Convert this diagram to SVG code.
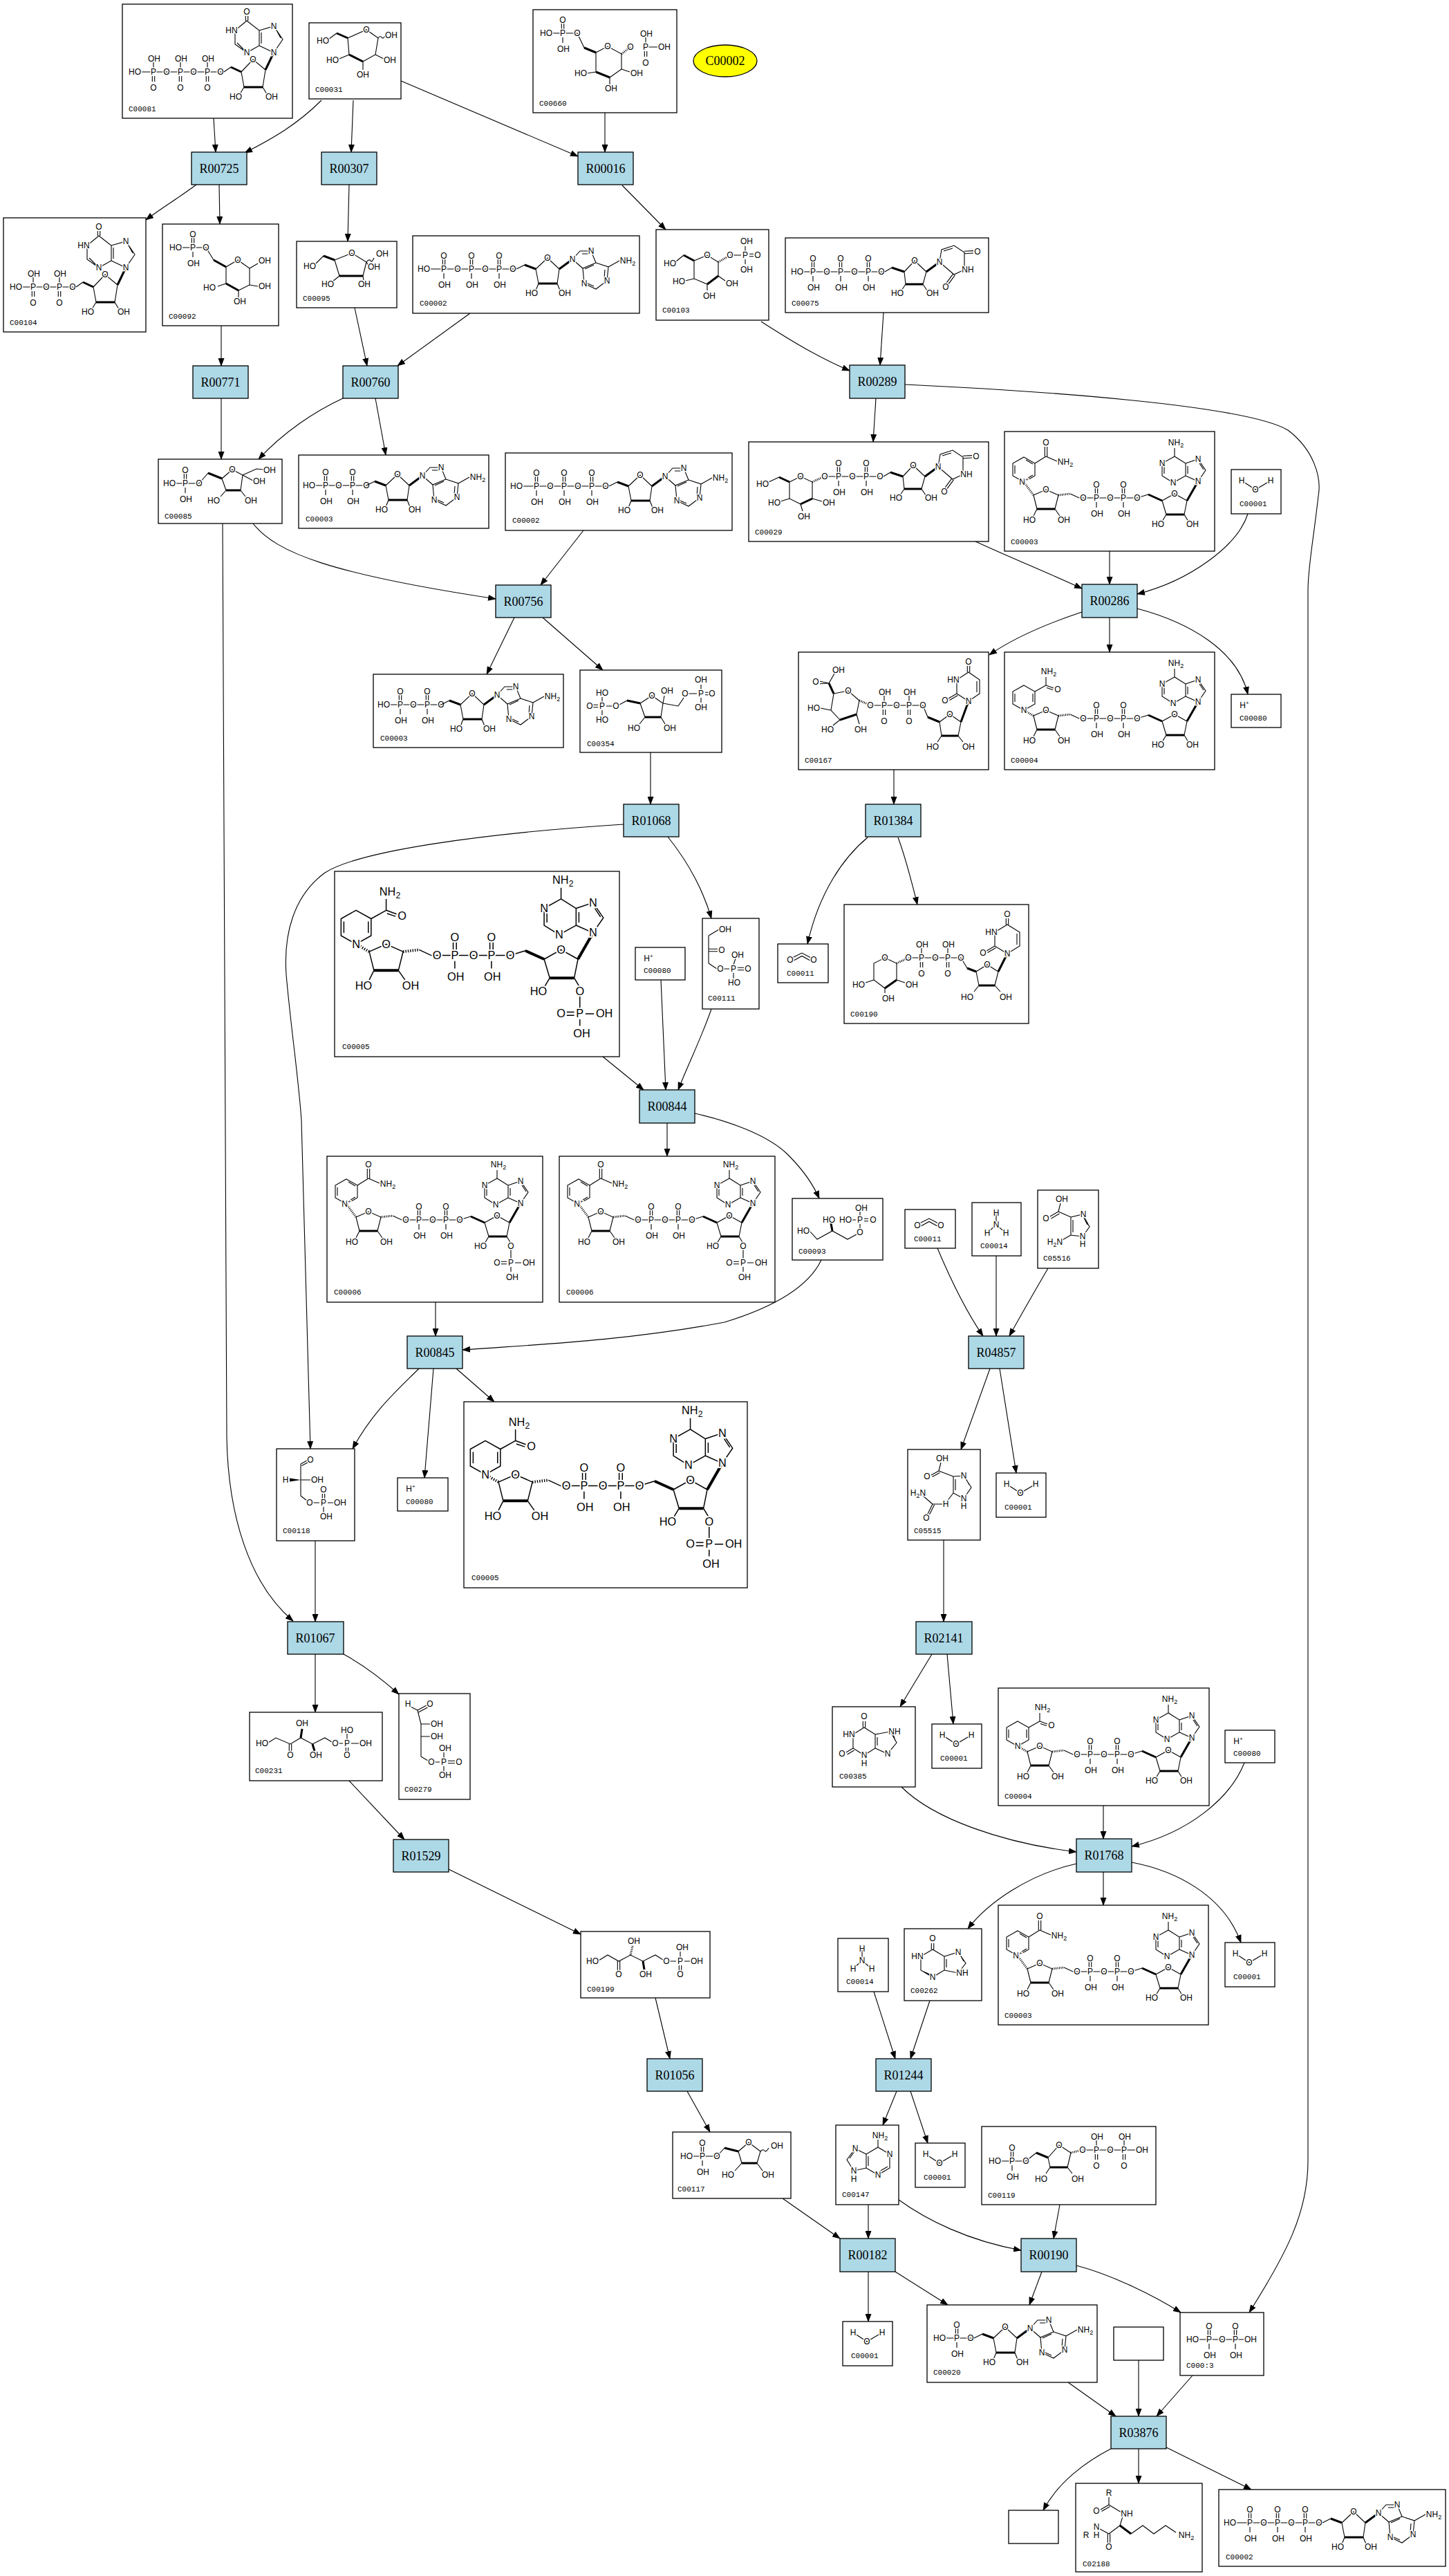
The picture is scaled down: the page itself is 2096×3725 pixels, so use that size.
<svg xmlns="http://www.w3.org/2000/svg" width="2096" height="3725" viewBox="0 0 2096 3725">
<style>
.bx{fill:#fff;stroke:#000;stroke-width:1.3}
.rx{fill:#add8e6;stroke:#000;stroke-width:1.3}
.rt{font-family:'Liberation Serif','Times New Roman',serif;font-size:18px;text-anchor:middle;fill:#000}
.lb{font-family:'Liberation Mono','Courier New',monospace;font-size:11px;fill:#000}
.a{font-family:'Liberation Sans',Arial,sans-serif;font-size:12px;text-anchor:middle;fill:#000;stroke:#fff;stroke-width:3px;paint-order:stroke;stroke-linejoin:round}
.b{fill:none;stroke:#000;stroke-width:1.1}
.bb{fill:none;stroke:#000;stroke-width:3}
.hs{fill:none;stroke:#000;stroke-width:3;stroke-dasharray:1 1.5}
.e{fill:none;stroke:#000;stroke-width:1.1;marker-end:url(#ah)}
.sub{font-size:9px}
</style>
<defs>
<marker id="ah" markerWidth="12" markerHeight="9" refX="11" refY="4.5" orient="auto" markerUnits="userSpaceOnUse"><path d="M0,0L12,4.5L0,9Z" fill="#000"/></marker>
<g id="pu"><path class="b" d="M-1.7,-6V-14M1.7,-6V-14M0,6V14"/><text class="a" y="4">P</text><text class="a" y="-15">O</text><text class="a" x="1" y="27">OH</text></g>
<g id="pd"><path class="b" d="M0,-6V-14M-1.7,6V14M1.7,6V14"/><text class="a" y="4">P</text><text class="a" x="1" y="-15">OH</text><text class="a" y="27">O</text></g>
<g id="rad">
<path class="b" d="M-28,0L-16,-6M0,0L17,-16L34,0L31,21M4,21L0,0M4,21L0,31M31,21L35,31M53,-14L64,-26L80,-26L87,-9L68,-1ZM87,-9L105,-3L103,17L87,29L70,21L68,-1M105,-3L121,-12M67,-22L78,-22M84,-6L71,0M100,1L99,14M84,25L73,20"/>
<path class="bb" d="M-16,-6L0,0M4,21L31,21M34,0L53,-14"/>
<text class="a" x="17" y="-12">O</text><text class="a" x="-6" y="39">HO</text><text class="a" x="42" y="39">OH</text>
<text class="a" x="53" y="-10">N</text><text class="a" x="80" y="-22">N</text><text class="a" x="103" y="21">N</text><text class="a" x="70" y="25">N</text>
<text class="a" x="133" y="-8">NH<tspan class="sub" dy="3">2</tspan></text>
</g>
<g id="rhx">
<path class="b" d="M-25,0L-15,-7M0,0L17,-18L35,-3L31,22M4,22L0,0M4,22L-2,32M31,22L37,32M8,-74L-9,-60L-9,-40L8,-28L26,-38L26,-60ZM26,-60L47,-66L60,-47L47,-28L26,-38M6.3,-74V-81M9.7,-74V-81M-6,-42L5,-31M29,-57V-41M50,-62L57,-49"/>
<path class="bb" d="M-15,-7L0,0M4,22L31,22M35,-3L47,-28"/>
<text class="a" x="17" y="-14">O</text><text class="a" x="-8" y="40">HO</text><text class="a" x="44" y="40">OH</text>
<text class="a" x="8" y="-83">O</text><text class="a" x="-14" y="-56">HN</text><text class="a" x="8" y="-24">N</text><text class="a" x="47" y="-62">N</text><text class="a" x="47" y="-24">N</text>
</g>
<g id="rur">
<path class="b" d="M-28,0L-18,-6M0,0L15,-16L32,0L27,18M2,18L0,0M2,18L-4,27M27,18L33,27M51,-14L54,-32L72,-38L87,-28L87,-3L72,4ZM87,-26.3L100,-27M87,-29.7L100,-30.4M73.4,4.9L62.4,19.9M70.6,3.1L59.6,18.1M57,-30L70,-34"/>
<path class="bb" d="M-18,-6L0,0M2,18L27,18M32,0L51,-14"/>
<text class="a" x="15" y="-12">O</text><text class="a" x="-10" y="35">HO</text><text class="a" x="41" y="35">OH</text>
<text class="a" x="51" y="-10">N</text><text class="a" x="92" y="1">NH</text><text class="a" x="106" y="-25">O</text><text class="a" x="60" y="26">O</text>
</g>
<g id="atp">
<path class="b" d="M26,48H150"/>
<text class="a" x="16" y="52">HO</text>
<use href="#pu" x="45" y="48"/><text class="a" x="65" y="52">O</text>
<use href="#pu" x="85" y="48"/><text class="a" x="105" y="52">O</text>
<use href="#pu" x="125" y="48"/><text class="a" x="145" y="52">O</text>
<use href="#rad" x="178" y="48"/>
</g>
<g id="adp">
<path class="b" d="M24,44H98"/>
<text class="a" x="15" y="48">HO</text>
<use href="#pu" x="39" y="44"/><text class="a" x="58" y="48">O</text>
<use href="#pu" x="78" y="44"/><text class="a" x="98" y="48">O</text>
<use href="#rad" x="126" y="44"/>
</g>
<g id="nadcore">
<path class="b" d="M42,92L60,84L78,92L73,112M47,112L42,92M47,112L42,122M73,112L80,122M95,90L108,96H192L208,91M228,100L246,90L264,100L260,120M234,120L228,100M234,120L228,130M260,120L266,130M246,36L228,46L228,64L244,74L262,64L262,46ZM262,46L280,40L291,56L280,72L262,64M246,36V24M265,50V61M231,50V61M282,46L288,55"/>
<path class="bb" d="M47,112L73,112M234,120L260,120M264,100L280,72M208,91L228,100"/>
<path class="hs" d="M78,92L95,90"/>
<use href="#pu" x="133" y="96"/><use href="#pu" x="172" y="96"/>
<text class="a" x="114" y="100">O</text><text class="a" x="153" y="100">O</text><text class="a" x="192" y="100">O</text>
<text class="a" x="60" y="88">O</text><text class="a" x="246" y="94">O</text>
<text class="a" x="36" y="132">HO</text><text class="a" x="86" y="132">OH</text><text class="a" x="222" y="138">HO</text>
<text class="a" x="228" y="50">N</text><text class="a" x="244" y="78">N</text><text class="a" x="280" y="44">N</text><text class="a" x="280" y="76">N</text>
<text class="a" x="248" y="20">NH<tspan class="sub" dy="3">2</tspan></text>
</g>
<g id="nicox">
<path class="b" d="M28,37L44,46L44,64L28,73L12,64L12,46ZM15,49V61M31,41L41,47M31,69L41,63M44,46L60,36M58.3,36V22M61.7,36V22M60,36L76,43"/>
<path class="hs" d="M28,73L42,92"/>
<text class="a" x="28" y="77">N<tspan font-size="8" dy="-5">+</tspan></text>
<text class="a" x="60" y="20">O</text>
<text class="a" x="88" y="48">NH<tspan class="sub" dy="3">2</tspan></text>
</g>
<g id="nicred">
<path class="b" d="M28,48L44,57L44,75L28,84L12,75L12,57ZM41,60V72M15,60V72M44,57L60,48M60,48L71,52M61,51.5L70,54.5M60,48V36"/>
<path class="hs" d="M28,84L42,92"/>
<text class="a" x="28" y="88">N</text>
<text class="a" x="77" y="58">O</text>
<text class="a" x="64" y="32">NH<tspan class="sub" dy="3">2</tspan></text>
</g>
<g id="p2">
<path class="b" d="M266,138V152M260,156.3H252M260,159.7H252M272,158H281M266,164V171"/>
<text class="a" x="266" y="138">O</text><text class="a" x="266" y="162">P</text><text class="a" x="246" y="162">O</text><text class="a" x="292" y="162">OH</text><text class="a" x="268" y="183">OH</text>
</g>
<g id="nad"><use href="#nadcore"/><use href="#nicox"/><text class="a" x="272" y="138">OH</text></g>
<g id="nadh"><use href="#nadcore"/><use href="#nicred"/><text class="a" x="272" y="138">OH</text></g>
<g id="nadp"><use href="#nadcore"/><use href="#nicox"/><use href="#p2"/></g>
<g id="nadph"><use href="#nadcore"/><use href="#nicred"/><use href="#p2"/></g>
<g id="water"><path class="b" d="M15,16L35,29L57,16"/><text class="a" x="15" y="20">H</text><text class="a" x="35" y="33">O</text><text class="a" x="57" y="20">H</text></g>
<g id="hplus"><text class="a" x="19" y="20">H<tspan font-size="8" dy="-5">+</tspan></text></g>
<g id="co2"><path class="b" d="M21,20L35,13L48,20M23,24L35,17.5L47,24"/><text class="a" x="18" y="27">O</text><text class="a" x="52" y="27">O</text></g>
<g id="nh3"><path class="b" d="M35,15V32M22,44L35,32L49,44"/><text class="a" x="35" y="19">H</text><text class="a" x="35" y="36">N</text><text class="a" x="22" y="48">H</text><text class="a" x="49" y="48">H</text></g>
</defs>
<rect width="2096" height="3725" fill="#fff"/>

<g id="edges">
<path class="e" d="M309,171L312,220"/>
<path class="e" d="M465,145C430,180 395,200 354,221"/>
<path class="e" d="M511,145L508,220"/>
<path class="e" d="M580,117L836,226"/>
<path class="e" d="M875,163L875,220"/>
<path class="e" d="M284,267C260,285 235,300 211,318"/>
<path class="e" d="M317,267L318,324"/>
<path class="e" d="M505,267L503,349"/>
<path class="e" d="M900,268L963,332"/>
<path class="e" d="M320,471L320,529"/>
<path class="e" d="M513,445L531,529"/>
<path class="e" d="M680,453L575,529"/>
<path class="e" d="M320,576L320,664"/>
<path class="e" d="M496,576C455,595 410,625 374,664"/>
<path class="e" d="M543,576L558,658"/>
<path class="e" d="M366,757C400,800 480,830 717,866"/>
<path class="e" d="M844,767L782,846"/>
<path class="e" d="M744,893L704,975"/>
<path class="e" d="M785,893L872,969"/>
<path class="e" d="M941,1088L941,1163"/>
<path class="e" d="M322,757L328,2079C330,2190 360,2290 424,2344"/>
<path class="e" d="M902,1192C700,1205 520,1230 470,1262C425,1295 410,1350 414,1409C420,1480 432,1560 436,1620L449,2095"/>
<path class="e" d="M966,1210C990,1240 1015,1280 1029,1328"/>
<path class="e" d="M872,1528L931,1576"/>
<path class="e" d="M956,1417L963,1576"/>
<path class="e" d="M1029,1459C1015,1500 995,1540 981,1576"/>
<path class="e" d="M965,1624L965,1672"/>
<path class="e" d="M1005,1610C1050,1620 1110,1640 1140,1670C1160,1690 1175,1710 1185,1733"/>
<path class="e" d="M1188,1822C1170,1860 1120,1890 1048,1912C900,1940 760,1945 669,1952"/>
<path class="e" d="M630,1883L630,1932"/>
<path class="e" d="M606,1979C575,2010 540,2040 510,2095"/>
<path class="e" d="M627,1979L614,2137"/>
<path class="e" d="M660,1979L715,2027"/>
<path class="e" d="M456,2228L456,2345"/>
<path class="e" d="M456,2392L456,2476"/>
<path class="e" d="M497,2392C530,2410 555,2430 577,2450"/>
<path class="e" d="M505,2575L585,2660"/>
<path class="e" d="M649,2703L840,2797"/>
<path class="e" d="M948,2889L969,2977"/>
<path class="e" d="M994,3024L1027,3083"/>
<path class="e" d="M1132,3179L1215,3237"/>
<path class="e" d="M1256,3188L1256,3237"/>
<path class="e" d="M1300,3181C1340,3210 1400,3240 1477,3254"/>
<path class="e" d="M1533,3188L1524,3237"/>
<path class="e" d="M1256,3285L1256,3357"/>
<path class="e" d="M1295,3285L1371,3333"/>
<path class="e" d="M1507,3285L1489,3333"/>
<path class="e" d="M1557,3276C1610,3290 1670,3320 1708,3344"/>
<path class="e" d="M1309,556C1500,565 1800,585 1863,622C1900,650 1912,690 1907,717C1900,780 1892,820 1892,853L1892,3125C1892,3200 1860,3260 1807,3344"/>
<path class="e" d="M1647,3413L1647,3494"/>
<path class="e" d="M1545,3445L1614,3494"/>
<path class="e" d="M1725,3435L1673,3494"/>
<path class="e" d="M1607,3541C1570,3560 1530,3590 1509,3630"/>
<path class="e" d="M1647,3541L1647,3591"/>
<path class="e" d="M1687,3539L1810,3600"/>
<path class="e" d="M1304,2584C1350,2630 1450,2665 1557,2678"/>
<path class="e" d="M1596,2611L1596,2659"/>
<path class="e" d="M1800,2549C1780,2600 1720,2650 1637,2670"/>
<path class="e" d="M1557,2695C1490,2710 1430,2750 1400,2789"/>
<path class="e" d="M1596,2707L1596,2755"/>
<path class="e" d="M1637,2693C1700,2705 1770,2740 1795,2809"/>
<path class="e" d="M1264,2880L1295,2977"/>
<path class="e" d="M1345,2893L1317,2977"/>
<path class="e" d="M1297,3024L1277,3073"/>
<path class="e" d="M1317,3024L1342,3099"/>
<path class="e" d="M1348,2392L1302,2468"/>
<path class="e" d="M1370,2392L1379,2493"/>
<path class="e" d="M1365,2227L1365,2345"/>
<path class="e" d="M1432,1979L1390,2096"/>
<path class="e" d="M1446,1979L1470,2130"/>
<path class="e" d="M1356,1805C1375,1850 1400,1900 1422,1932"/>
<path class="e" d="M1441,1816L1441,1932"/>
<path class="e" d="M1516,1834C1495,1870 1475,1905 1460,1932"/>
<path class="e" d="M1255,1211C1220,1240 1185,1290 1168,1365"/>
<path class="e" d="M1299,1211C1310,1240 1320,1280 1327,1308"/>
<path class="e" d="M1267,576L1263,639"/>
<path class="e" d="M1278,452L1273,528"/>
<path class="e" d="M1101,465C1140,490 1180,515 1229,536"/>
<path class="e" d="M1411,783C1470,810 1520,830 1565,851"/>
<path class="e" d="M1605,797L1605,845"/>
<path class="e" d="M1805,743C1790,790 1720,840 1645,859"/>
<path class="e" d="M1565,885C1520,900 1470,920 1431,947"/>
<path class="e" d="M1605,893L1605,943"/>
<path class="e" d="M1645,880C1720,900 1790,940 1805,1004"/>
<path class="e" d="M1293,1113L1293,1163"/>
</g>

<g id="reactions">
<g id="R00725"><rect class="rx" x="277" y="220" width="80" height="47"/><text class="rt" x="317" y="250">R00725</text></g>
<g id="R00307"><rect class="rx" x="465" y="220" width="80" height="47"/><text class="rt" x="505" y="250">R00307</text></g>
<g id="R00016"><rect class="rx" x="836" y="220" width="80" height="47"/><text class="rt" x="876" y="250">R00016</text></g>
<g id="R00771"><rect class="rx" x="279" y="529" width="80" height="47"/><text class="rt" x="319" y="559">R00771</text></g>
<g id="R00760"><rect class="rx" x="496" y="529" width="80" height="47"/><text class="rt" x="536" y="559">R00760</text></g>
<g id="R00289"><rect class="rx" x="1229" y="528" width="80" height="48"/><text class="rt" x="1269" y="558">R00289</text></g>
<g id="R00756"><rect class="rx" x="717" y="846" width="80" height="47"/><text class="rt" x="757" y="876">R00756</text></g>
<g id="R00286"><rect class="rx" x="1565" y="845" width="80" height="48"/><text class="rt" x="1605" y="875">R00286</text></g>
<g id="R01068"><rect class="rx" x="902" y="1163" width="80" height="47"/><text class="rt" x="942" y="1193">R01068</text></g>
<g id="R01384"><rect class="rx" x="1252" y="1163" width="80" height="47"/><text class="rt" x="1292" y="1193">R01384</text></g>
<g id="R00844"><rect class="rx" x="925" y="1576" width="80" height="48"/><text class="rt" x="965" y="1606">R00844</text></g>
<g id="R00845"><rect class="rx" x="589" y="1932" width="80" height="47"/><text class="rt" x="629" y="1962">R00845</text></g>
<g id="R04857"><rect class="rx" x="1401" y="1932" width="80" height="47"/><text class="rt" x="1441" y="1962">R04857</text></g>
<g id="R01067"><rect class="rx" x="416" y="2345" width="81" height="47"/><text class="rt" x="456" y="2375">R01067</text></g>
<g id="R02141"><rect class="rx" x="1325" y="2345" width="81" height="47"/><text class="rt" x="1365" y="2375">R02141</text></g>
<g id="R01529"><rect class="rx" x="569" y="2660" width="80" height="47"/><text class="rt" x="609" y="2690">R01529</text></g>
<g id="R01768"><rect class="rx" x="1557" y="2659" width="80" height="48"/><text class="rt" x="1597" y="2689">R01768</text></g>
<g id="R01056"><rect class="rx" x="936" y="2977" width="80" height="47"/><text class="rt" x="976" y="3007">R01056</text></g>
<g id="R01244"><rect class="rx" x="1267" y="2977" width="80" height="47"/><text class="rt" x="1307" y="3007">R01244</text></g>
<g id="R00182"><rect class="rx" x="1215" y="3237" width="80" height="48"/><text class="rt" x="1255" y="3267">R00182</text></g>
<g id="R00190"><rect class="rx" x="1477" y="3237" width="80" height="48"/><text class="rt" x="1517" y="3267">R00190</text></g>
<g id="R03876"><rect class="rx" x="1607" y="3494" width="80" height="47"/><text class="rt" x="1647" y="3524">R03876</text></g>
</g>

<g id="C00002_y"><ellipse cx="1049" cy="88" rx="46" ry="23" fill="#ffff00" stroke="#000" stroke-width="1.3"/><text class="rt" x="1049" y="94">C00002</text></g>

<g id="C00081" transform="translate(177,6)"><rect class="bx" width="246" height="165"/>
<path class="b" d="M27,98H147"/><text class="a" x="18" y="102">HO</text>
<use href="#pd" x="45" y="98"/><text class="a" x="64" y="102">O</text>
<use href="#pd" x="84" y="98"/><text class="a" x="103" y="102">O</text>
<use href="#pd" x="123" y="98"/><text class="a" x="142" y="102">O</text>
<use href="#rhx" x="172" y="98"/>
<text class="lb" x="9" y="155">C00081</text></g>

<g id="C00031" transform="translate(447,33)"><rect class="bx" width="133" height="110"/>
<path class="b" d="M56,22L83,10L100,22L96,46L78,56M58,46L56,22M96,46L108,52M78,56V68M58,46L44,52M40,15L28,24M100,22q3,-4 5,-1t5,-2"/>
<path class="bb" d="M56,22L40,15M78,56L58,46"/>
<text class="a" x="83" y="14">O</text><text class="a" x="20" y="30">HO</text><text class="a" x="119" y="22">OH</text><text class="a" x="117" y="58">OH</text><text class="a" x="78" y="79">OH</text><text class="a" x="34" y="58">HO</text>
<text class="lb" x="9" y="100">C00031</text></g>

<g id="C00660" transform="translate(771,14)"><rect class="bx" width="208" height="149"/>
<path class="b" d="M28,34H64M64,34L74,55M91,62L108,53L128,64L128,86L111,98M91,90L91,62M163,54H180M128,86L140,90M111,98V108M91,90L78,92"/>
<path class="bb" d="M74,55L91,62M111,98L91,90"/>
<path class="hs" d="M128,64L141,54"/>
<use href="#pu" x="43" y="34"/><use href="#pd" x="163" y="54"/>
<text class="a" x="19" y="38">HO</text><text class="a" x="64" y="38">O</text><text class="a" x="108" y="57">O</text><text class="a" x="141" y="58">O</text><text class="a" x="190" y="58">OH</text><text class="a" x="150" y="96">OH</text><text class="a" x="113" y="118">OH</text><text class="a" x="69" y="96">HO</text>
<text class="lb" x="9" y="139">C00660</text></g>

<g id="C00104" transform="translate(5,315)"><rect class="bx" width="206" height="165"/>
<path class="b" d="M27,100H105"/><text class="a" x="18" y="104">HO</text>
<use href="#pd" x="43" y="100"/><text class="a" x="62" y="104">O</text>
<use href="#pd" x="81" y="100"/><text class="a" x="100" y="104">O</text>
<use href="#rhx" x="130" y="100"/>
<text class="lb" x="9" y="155">C00104</text></g>

<g id="C00092" transform="translate(235,324)"><rect class="bx" width="168" height="147"/>
<path class="b" d="M28,34H63M63,34L74,52M92,62L109,52L126,64L126,88L110,96M92,86L92,62M126,64L138,57M126,88L138,90M110,96V106M92,86L80,90"/>
<path class="bb" d="M74,52L92,62M110,96L92,86"/>
<use href="#pu" x="44" y="34"/>
<text class="a" x="19" y="38">HO</text><text class="a" x="63" y="38">O</text><text class="a" x="109" y="56">O</text><text class="a" x="148" y="57">OH</text><text class="a" x="148" y="94">OH</text><text class="a" x="112" y="116">OH</text><text class="a" x="68" y="96">HO</text>
<text class="lb" x="9" y="137">C00092</text></g>

<g id="C00095" transform="translate(429,349)"><rect class="bx" width="145" height="96"/>
<path class="b" d="M27,33L39,21M55,27L80,17L101,30L96,50M62,50L55,27M101,30q4,-5 6,-2t5,-4M101,30L104,35M62,50L52,58M96,50L97,56"/>
<path class="bb" d="M39,21L55,27M62,50L96,50"/>
<text class="a" x="19" y="40">HO</text><text class="a" x="80" y="21">O</text><text class="a" x="124" y="22">OH</text><text class="a" x="112" y="41">OH</text><text class="a" x="45" y="66">HO</text><text class="a" x="98" y="66">OH</text>
<text class="lb" x="9" y="86">C00095</text></g>

<g id="C00002_a" transform="translate(597,341)"><rect class="bx" width="328" height="112"/><use href="#atp"/><text class="lb" x="10" y="101">C00002</text></g>

<g id="C00103" transform="translate(949,332)"><rect class="bx" width="163" height="131"/>
<path class="b" d="M29,46L40,37M55,45L74,37L90,47L90,67M74,79L55,71L55,45M107,37H123M129,31V24M129,43V50M135,35.3H141M135,38.7H141M90,67L100,74M74,79V88M55,71L42,74"/>
<path class="bb" d="M40,37L55,45M90,67L74,79"/>
<path class="hs" d="M90,47L104,39"/>
<text class="a" x="20" y="53">HO</text><text class="a" x="74" y="41">O</text><text class="a" x="107" y="41">O</text><text class="a" x="129" y="41">P</text><text class="a" x="131" y="21">OH</text><text class="a" x="131" y="62">OH</text><text class="a" x="147" y="41">O</text><text class="a" x="110" y="82">OH</text><text class="a" x="77" y="100">OH</text><text class="a" x="33" y="79">HO</text>
<text class="lb" x="9" y="120">C00103</text></g>

<g id="C00075" transform="translate(1136,344)"><rect class="bx" width="294" height="108"/>
<path class="b" d="M26,49H144"/><text class="a" x="17" y="53">HO</text>
<use href="#pu" x="40" y="49"/><text class="a" x="60" y="53">O</text>
<use href="#pu" x="80" y="49"/><text class="a" x="100" y="53">O</text>
<use href="#pu" x="120" y="49"/><text class="a" x="139" y="53">O</text>
<use href="#rur" x="172" y="49"/>
<text class="lb" x="9" y="98">C00075</text></g>

<g id="C00085" transform="translate(229,664)"><rect class="bx" width="179" height="93"/>
<path class="b" d="M25,35H59M59,35L72,20M92,28L107,15L122,23L119,45M98,45L92,28M122,23L142,14L152,15M122,23L137,31M98,45L90,54M119,45L126,54"/>
<path class="bb" d="M72,20L92,28M98,45L119,45"/>
<use href="#pu" x="39" y="35"/>
<text class="a" x="16" y="39">HO</text><text class="a" x="59" y="39">O</text><text class="a" x="107" y="19">O</text><text class="a" x="161" y="20">OH</text><text class="a" x="146" y="36">OH</text><text class="a" x="80" y="64">HO</text><text class="a" x="134" y="64">OH</text>
<text class="lb" x="9" y="86">C00085</text></g>

<g id="C00003_a" transform="translate(432,658)"><rect class="bx" width="275" height="106"/><use href="#adp"/><text class="lb" x="10" y="96">C00003</text></g>

<g id="C00002_b" transform="translate(731,655)"><rect class="bx" width="328" height="112"/><use href="#atp"/><text class="lb" x="10" y="101">C00002</text></g>

<g id="C00029" transform="translate(1083,639)"><rect class="bx" width="347" height="144"/>
<path class="b" d="M29,58L44,51M59,58L75,50L92,58L92,82M75,90L59,82L59,58M59,82L46,86M75,90L78,100M92,82L106,86M110,50H190"/>
<path class="bb" d="M44,51L59,58M92,82L75,90"/>
<path class="hs" d="M92,58L105,52"/>
<use href="#pu" x="130" y="50"/><use href="#pu" x="170" y="50"/>
<text class="a" x="20" y="65">HO</text><text class="a" x="75" y="54">O</text><text class="a" x="37" y="92">HO</text><text class="a" x="80" y="112">OH</text><text class="a" x="116" y="92">OH</text>
<text class="a" x="110" y="54">O</text><text class="a" x="150" y="54">O</text><text class="a" x="190" y="54">O</text>
<use href="#rur" x="223" y="50"/>
<text class="lb" x="9" y="134">C00029</text></g>

<g id="C00003_c" transform="translate(1453,624)"><rect class="bx" width="304" height="173"/><use href="#nad"/><text class="lb" x="9" y="163">C00003</text></g>

<g id="C00001_a" transform="translate(1781,679)"><rect class="bx" width="72" height="64"/><use href="#water"/><text class="lb" x="12" y="53">C00001</text></g>

<g id="C00003_b" transform="translate(540,975)"><rect class="bx" width="275" height="106"/><use href="#adp"/><text class="lb" x="10" y="96">C00003</text></g>

<g id="C00354" transform="translate(839,969)"><rect class="bx" width="205" height="119"/>
<path class="b" d="M32,46V39M26,50.3H19M26,53.7H19M32,58V65M38,52H47M57,50L68,44M87,48L104,37L120,48L117,68M94,68L87,48M94,68L86,78M117,68L123,78M120,48L122,37M120,48L142,52L150,40M157,34H169M175,28V21M181,32.3H186M181,35.7H186M175,40V47"/>
<path class="bb" d="M68,44L87,48M94,68L117,68"/>
<text class="a" x="32" y="56">P</text><text class="a" x="32" y="37">HO</text><text class="a" x="14" y="56">O</text><text class="a" x="32" y="76">HO</text><text class="a" x="52" y="56">O</text>
<text class="a" x="104" y="41">O</text><text class="a" x="78" y="88">HO</text><text class="a" x="130" y="88">OH</text><text class="a" x="126" y="34">OH</text>
<text class="a" x="152" y="38">O</text><text class="a" x="175" y="38">P</text><text class="a" x="175" y="18">OH</text><text class="a" x="191" y="38">O</text><text class="a" x="175" y="58">OH</text>
<text class="lb" x="10" y="110">C00354</text></g>

<g id="C00167" transform="translate(1155,943)"><rect class="bx" width="275" height="170"/>
<path class="b" d="M44,45L31,42.3M44,45L31,45.7M44,45L52,31M51,60L72,56L88,70L84,90M60,98L47,84L51,60M47,84L32,81M60,98L50,106M84,90L88,104M104,77H180M180,77L187,94M204,101L219,90L235,101L231,121M207,121L204,101M207,121L201,130M231,121L238,130M246,71L262,60L262,40L246,29L229,40L229,60ZM244.3,29V20M247.7,29V20M229,60L217,67M230.5,62.6L218.5,69.6M258,42V58"/>
<path class="bb" d="M44,45L51,60M84,90L60,98M187,94L204,101M207,121L231,121M235,101L246,71"/>
<path class="hs" d="M88,70L100,75"/>
<use href="#pd" x="124" y="77"/><use href="#pd" x="160" y="77"/>
<text class="a" x="25" y="47">O</text><text class="a" x="58" y="30">OH</text><text class="a" x="72" y="60">O</text><text class="a" x="22" y="85">HO</text><text class="a" x="42" y="116">HO</text><text class="a" x="90" y="116">OH</text>
<text class="a" x="104" y="81">O</text><text class="a" x="142" y="81">O</text><text class="a" x="180" y="81">O</text>
<text class="a" x="219" y="94">O</text><text class="a" x="194" y="141">HO</text><text class="a" x="246" y="141">OH</text>
<text class="a" x="246" y="75">N</text><text class="a" x="224" y="44">HN</text><text class="a" x="246" y="18">O</text><text class="a" x="212" y="74">O</text>
<text class="lb" x="9" y="160">C00167</text></g>

<g id="C00004_a" transform="translate(1453,943)"><rect class="bx" width="304" height="170"/><use href="#nadh"/><text class="lb" x="9" y="160">C00004</text></g>

<g id="C00080_a" transform="translate(1781,1004)"><rect class="bx" width="72" height="48"/><use href="#hplus"/><text class="lb" x="12" y="38">C00080</text></g>

<g id="C00005_a" transform="translate(484,1260)"><rect class="bx" width="412" height="268"/><g transform="translate(-7,-9) scale(1.36)"><use href="#nadph"/></g><text class="lb" x="11" y="257">C00005</text></g>

<g id="C00080_b" transform="translate(919,1370)"><rect class="bx" width="72" height="47"/><use href="#hplus"/><text class="lb" x="12" y="37">C00080</text></g>

<g id="C00111" transform="translate(1016,1328)"><rect class="bx" width="82" height="131"/>
<path class="b" d="M9,25L24,16M9,25V65M9,44.3H22M9,47.7H22M9,65L21,73M31,73H39M45,67L48,58M51,71.3H60M51,74.7H60M45,79V87"/>
<text class="a" x="33" y="20">OH</text><text class="a" x="28" y="50">O</text><text class="a" x="26" y="77">O</text><text class="a" x="45" y="77">P</text><text class="a" x="51" y="57">OH</text><text class="a" x="66" y="77">O</text><text class="a" x="46" y="97">HO</text>
<text class="lb" x="8" y="119">C00111</text></g>

<g id="C00011_a" transform="translate(1125,1365)"><rect class="bx" width="73" height="56"/><use href="#co2"/><text class="lb" x="13" y="46">C00011</text></g>

<g id="C00190" transform="translate(1221,1308)"><rect class="bx" width="267" height="172"/>
<path class="b" d="M59,77L43,85L43,109L59,121M76,109L76,85L59,77M43,109L31,113M59,121V128M76,109L88,113M93,77H169M169,77L178,92M191,97L207,87L223,97L218,117M195,117L191,97M195,117L188,126M218,117L226,126M236,71L254,60L254,40L236,29L218,40L218,60ZM234.3,29V20M237.7,29V20M218,60L206,67M219.5,62.6L207.5,69.6M250,42V58"/>
<path class="bb" d="M59,121L76,109M178,92L191,97M195,117L218,117M223,97L236,71"/>
<path class="hs" d="M76,85L89,79"/>
<use href="#pd" x="112" y="77"/><use href="#pd" x="150" y="77"/>
<text class="a" x="59" y="81">O</text><text class="a" x="21" y="120">HO</text><text class="a" x="64" y="140">OH</text><text class="a" x="98" y="120">OH</text>
<text class="a" x="93" y="81">O</text><text class="a" x="132" y="81">O</text><text class="a" x="169" y="81">O</text>
<text class="a" x="207" y="91">O</text><text class="a" x="178" y="138">HO</text><text class="a" x="234" y="138">OH</text>
<text class="a" x="236" y="75">N</text><text class="a" x="213" y="44">HN</text><text class="a" x="236" y="18">O</text><text class="a" x="201" y="74">O</text>
<text class="lb" x="9" y="162">C00190</text></g>

<g id="C00006_a" transform="translate(473,1672)"><rect class="bx" width="312" height="211"/><g transform="translate(0,-4)"><use href="#nadp"/></g><text class="lb" x="10" y="200">C00006</text></g>

<g id="C00006_b" transform="translate(809,1672)"><rect class="bx" width="312" height="211"/><g transform="translate(0,-4)"><use href="#nadp"/></g><text class="lb" x="10" y="200">C00006</text></g>

<g id="C00093" transform="translate(1146,1733)"><rect class="bx" width="131" height="89"/>
<path class="b" d="M25,47L36,59L58,47L80,59L93,52M98,44V37M92,31H86M98,25V19M104,29.3H110M104,32.7H110"/>
<path class="bb" d="M58,47L56,36"/>
<text class="a" x="16" y="51">HO</text><text class="a" x="53" y="35">HO</text><text class="a" x="98" y="53">O</text><text class="a" x="98" y="35">P</text><text class="a" x="77" y="35">HO</text><text class="a" x="100" y="18">OH</text><text class="a" x="117" y="35">O</text>
<text class="lb" x="9" y="80">C00093</text></g>

<g id="C00011_b" transform="translate(1309,1749)"><rect class="bx" width="73" height="56"/><use href="#co2"/><text class="lb" x="13" y="46">C00011</text></g>

<g id="C00014_a" transform="translate(1406,1739)"><rect class="bx" width="71" height="77"/><use href="#nh3"/><text class="lb" x="12" y="66">C00014</text></g>

<g id="C05516" transform="translate(1501,1721)"><rect class="bx" width="88" height="113"/>
<path class="b" d="M48,39L65,35L75,53L65,67L48,65ZM51,43V61M67,40L72,50M48,39L30,31M30,31L33,19M30,31L18,38M31.5,34L19.5,41M48,65L34,73"/>
<text class="a" x="35" y="17">OH</text><text class="a" x="12" y="45">O</text><text class="a" x="66" y="39">N</text><text class="a" x="65" y="71">N</text><text class="a" x="65" y="82">H</text><text class="a" x="25" y="79">H<tspan class="sub" dy="3">2</tspan><tspan dy="-3">N</tspan></text>
<text class="lb" x="8" y="102">C05516</text></g>

<g id="C05515" transform="translate(1313,2096)"><rect class="bx" width="105" height="131"/>
<path class="b" d="M66,39L81,38L92,55L81,71L66,63ZM69,43V59M84,42L89,51M66,39L45,31M45,31L48,19M45,31L34,37M46.5,33.6L35.5,39.6M66,63L56,76M36,79H50M36,79L22,67M36,79L29,93M38.5,80L31.5,94"/>
<text class="a" x="50" y="17">OH</text><text class="a" x="28" y="43">O</text><text class="a" x="81" y="42">N</text><text class="a" x="81" y="75">N</text><text class="a" x="81" y="86">H</text><text class="a" x="15" y="67">H<tspan class="sub" dy="3">2</tspan><tspan dy="-3">N</tspan></text><text class="a" x="27" y="103">O</text><text class="a" x="55" y="83">H</text>
<text class="lb" x="9" y="121">C05515</text></g>

<g id="C00118" transform="translate(400,2095)"><rect class="bx" width="113" height="133"/>
<path class="b" d="M35,22L44,17M36.5,24.5L45.5,19.5M35,22V68M35,45H50M35,68L44,75M53,78H62M66.3,72V65M69.7,72V65M74,78H83M68,84V92"/>
<path d="M35,45L19,42.5L19,47.5Z" fill="#000"/>
<text class="a" x="49" y="20">O</text><text class="a" x="13" y="49">H</text><text class="a" x="59" y="49">OH</text><text class="a" x="48" y="82">O</text><text class="a" x="68" y="82">P</text><text class="a" x="68" y="63">O</text><text class="a" x="92" y="82">OH</text><text class="a" x="72" y="102">OH</text>
<text class="lb" x="9" y="122">C00118</text></g>

<g id="C00080_c" transform="translate(575,2137)"><rect class="bx" width="73" height="48"/><use href="#hplus"/><text class="lb" x="12" y="38">C00080</text></g>

<g id="C00005_b" transform="translate(671,2027)"><rect class="bx" width="410" height="269"/><g transform="translate(-7,-9) scale(1.36)"><use href="#nadph"/></g><text class="lb" x="11" y="258">C00005</text></g>

<g id="C00001_b" transform="translate(1441,2130)"><rect class="bx" width="72" height="64"/><use href="#water"/><text class="lb" x="12" y="53">C00001</text></g>

<g id="C00231" transform="translate(361,2476)"><rect class="bx" width="192" height="99"/>
<path class="b" d="M27,44L38,37L59,46L74,37L91,46L109,37L119,43M57.3,46V57M60.7,46V57M129,45H135M141,39V31M147,45H158M139.3,51V57M142.7,51V57"/>
<path class="bb" d="M74,37L76,24M91,46L94,56"/>
<text class="a" x="18" y="49">HO</text><text class="a" x="59" y="66">O</text><text class="a" x="76" y="20">OH</text><text class="a" x="96" y="66">OH</text><text class="a" x="124" y="49">O</text><text class="a" x="141" y="49">P</text><text class="a" x="141" y="30">HO</text><text class="a" x="168" y="49">OH</text><text class="a" x="141" y="66">O</text>
<text class="lb" x="8" y="88">C00231</text></g>

<g id="C00279" transform="translate(577,2449)"><rect class="bx" width="103" height="153"/>
<path class="b" d="M17,19L27,24M27,24L40,17M28.5,27L41.5,20M27,24L32,44V91M32,44H45M32,62H45M32,91L42,97M52,99H59M65,93V85M71,97.3H81M71,100.7H81M65,105V113"/>
<text class="a" x="13" y="19">H</text><text class="a" x="45" y="19">O</text><text class="a" x="55" y="48">OH</text><text class="a" x="55" y="66">OH</text><text class="a" x="47" y="103">O</text><text class="a" x="65" y="103">P</text><text class="a" x="67" y="83">OH</text><text class="a" x="87" y="103">O</text><text class="a" x="67" y="122">OH</text>
<text class="lb" x="8" y="142">C00279</text></g>

<g id="C00385" transform="translate(1204,2468)"><rect class="bx" width="120" height="116"/>
<path class="b" d="M46,30L30,40L30,60L46,70L62,60L62,40ZM62,40L84,36L93,52L80,68L62,60M44.3,30V21M47.7,30V21M30,60L20,66M31.5,63L21.5,69M65,44V56M88,40L91,49"/>
<text class="a" x="46" y="18">O</text><text class="a" x="24" y="44">HN</text><text class="a" x="14" y="72">O</text><text class="a" x="46" y="74">N</text><text class="a" x="46" y="86">H</text><text class="a" x="90" y="40">NH</text><text class="a" x="80" y="72">N</text>
<text class="lb" x="10" y="104">C00385</text></g>

<g id="C00001_c" transform="translate(1348,2493)"><rect class="bx" width="72" height="64"/><use href="#water"/><text class="lb" x="12" y="53">C00001</text></g>

<g id="C00004_b" transform="translate(1444,2441)"><rect class="bx" width="305" height="170"/><use href="#nadh"/><text class="lb" x="9" y="160">C00004</text></g>

<g id="C00080_d" transform="translate(1772,2502)"><rect class="bx" width="72" height="47"/><use href="#hplus"/><text class="lb" x="12" y="37">C00080</text></g>

<g id="C00199" transform="translate(840,2793)"><rect class="bx" width="187" height="96"/>
<path class="b" d="M26,42L39,34L55,43L72,34L90,43L108,34L119,41M53.3,43V57M56.7,43V57M129,43H138M144,37V29M150,43H158M142.3,49V57M145.7,49V57"/>
<path class="hs" d="M72,34L75,21"/>
<path class="bb" d="M90,43L92,55"/>
<text class="a" x="17" y="47">HO</text><text class="a" x="55" y="66">O</text><text class="a" x="77" y="18">OH</text><text class="a" x="94" y="66">OH</text><text class="a" x="124" y="47">O</text><text class="a" x="144" y="47">P</text><text class="a" x="147" y="27">OH</text><text class="a" x="168" y="47">OH</text><text class="a" x="144" y="66">O</text>
<text class="lb" x="9" y="87">C00199</text></g>

<g id="C00014_b" transform="translate(1212,2803)"><rect class="bx" width="73" height="77"/><use href="#nh3"/><text class="lb" x="12" y="66">C00014</text></g>

<g id="C00262" transform="translate(1308,2789)"><rect class="bx" width="112" height="104"/>
<path class="b" d="M41,30L24,40L24,60L41,70L58,60L58,40ZM58,40L78,34L89,50L78,64L58,60M39.3,30V21M42.7,30V21M61,44V56M28,62L39,67M81,38L86,47"/>
<text class="a" x="41" y="18">O</text><text class="a" x="19" y="44">HN</text><text class="a" x="41" y="74">N</text><text class="a" x="78" y="38">N</text><text class="a" x="84" y="68">NH</text>
<text class="lb" x="9" y="93">C00262</text></g>

<g id="C00003_d" transform="translate(1444,2755)"><rect class="bx" width="304" height="173"/><use href="#nad"/><text class="lb" x="9" y="163">C00003</text></g>

<g id="C00001_d" transform="translate(1772,2809)"><rect class="bx" width="72" height="64"/><use href="#water"/><text class="lb" x="12" y="53">C00001</text></g>

<g id="C00117" transform="translate(973,3083)"><rect class="bx" width="171" height="96"/>
<path class="b" d="M29,35H64M64,35L75,23M95,28L110,15L127,28L122,45M100,45L95,28M127,28q4,-4 6,-1t6,-4M100,45L90,56M122,45L130,56"/>
<path class="bb" d="M75,23L95,28M100,45L122,45"/>
<use href="#pu" x="43" y="35"/>
<text class="a" x="20" y="39">HO</text><text class="a" x="64" y="39">O</text><text class="a" x="110" y="19">O</text><text class="a" x="151" y="24">OH</text><text class="a" x="80" y="66">HO</text><text class="a" x="138" y="66">OH</text>
<text class="lb" x="7" y="86">C00117</text></g>

<g id="C00147" transform="translate(1209,3073)"><rect class="bx" width="91" height="115"/>
<path class="b" d="M61,32L78,42L78,62L61,72L44,62L44,42ZM44,42L28,34L16,50L26,66L44,62M61,32V21M47,45V59M75,60L63,67M20,48L27,38"/>
<text class="a" x="64" y="19">NH<tspan class="sub" dy="3">2</tspan></text><text class="a" x="78" y="46">N</text><text class="a" x="61" y="76">N</text><text class="a" x="28" y="38">N</text><text class="a" x="26" y="70">N</text><text class="a" x="26" y="82">H</text>
<text class="lb" x="9" y="104">C00147</text></g>

<g id="C00001_e" transform="translate(1324,3099)"><rect class="bx" width="72" height="64"/><use href="#water"/><text class="lb" x="12" y="53">C00001</text></g>

<g id="C00119" transform="translate(1420,3075)"><rect class="bx" width="252" height="113"/>
<path class="b" d="M28,50H64M64,50L79,38M96,45L112,27L129,38L124,59M99,59L96,45M99,59L93,68M124,59L131,68M146,34H222"/>
<path class="bb" d="M79,38L96,45M99,59L124,59"/>
<path class="hs" d="M129,38L141,35"/>
<use href="#pu" x="44" y="50"/><use href="#pd" x="166" y="34"/><use href="#pd" x="206" y="34"/>
<text class="a" x="19" y="54">HO</text><text class="a" x="64" y="54">O</text><text class="a" x="112" y="31">O</text><text class="a" x="86" y="80">HO</text><text class="a" x="139" y="80">OH</text><text class="a" x="146" y="38">O</text><text class="a" x="186" y="38">O</text><text class="a" x="232" y="38">OH</text>
<text class="lb" x="9" y="103">C00119</text></g>

<g id="C00001_f" transform="translate(1219,3357)"><rect class="bx" width="72" height="64"/><use href="#water"/><text class="lb" x="12" y="53">C00001</text></g>

<g id="C00020" transform="translate(1341,3333)"><rect class="bx" width="246" height="112"/>
<path class="b" d="M27,48H68"/><text class="a" x="18" y="52">HO</text>
<use href="#pu" x="43" y="48"/><text class="a" x="63" y="52">O</text>
<use href="#rad" x="96" y="48"/>
<text class="lb" x="9" y="101">C00020</text></g>

<g id="empty_1"><rect class="bx" x="1611" y="3365" width="72" height="48"/></g>

<g id="C00013" transform="translate(1707,3344)"><rect class="bx" width="121" height="91"/>
<path class="b" d="M27,39H92"/><text class="a" x="18" y="43">HO</text>
<use href="#pu" x="42" y="39"/><text class="a" x="61" y="43">O</text>
<use href="#pu" x="80" y="39"/><text class="a" x="102" y="43">OH</text>
<text class="lb" x="9" y="80">C000:3</text></g>

<g id="empty_2"><rect class="bx" x="1459" y="3630" width="72" height="48"/></g>

<g id="C02188" transform="translate(1556,3591)"><rect class="bx" width="183" height="128"/>
<path class="b" d="M48,20V31M48,31L36,38M49.5,33.6L37.5,40.6M48,31L66,42M68,48L64,61M64,61L48,73M46.3,73V86M49.7,73V86M48,73L35,66M80,73L97,61L113,73L130,61L145,71"/>
<path class="bb" d="M64,61L80,73"/>
<text class="a" x="48" y="18">R</text><text class="a" x="30" y="44">O</text><text class="a" x="74" y="48">NH</text><text class="a" x="48" y="96">O</text><text class="a" x="30" y="67">N</text><text class="a" x="30" y="79">H</text><text class="a" x="15" y="79">R</text><text class="a" x="160" y="79">NH<tspan class="sub" dy="3">2</tspan></text>
<text class="lb" x="10" y="120">C02188</text></g>

<g id="C00002_c" transform="translate(1763,3600)"><rect class="bx" width="328" height="111"/><use href="#atp"/><text class="lb" x="10" y="101">C00002</text></g>
</svg>
